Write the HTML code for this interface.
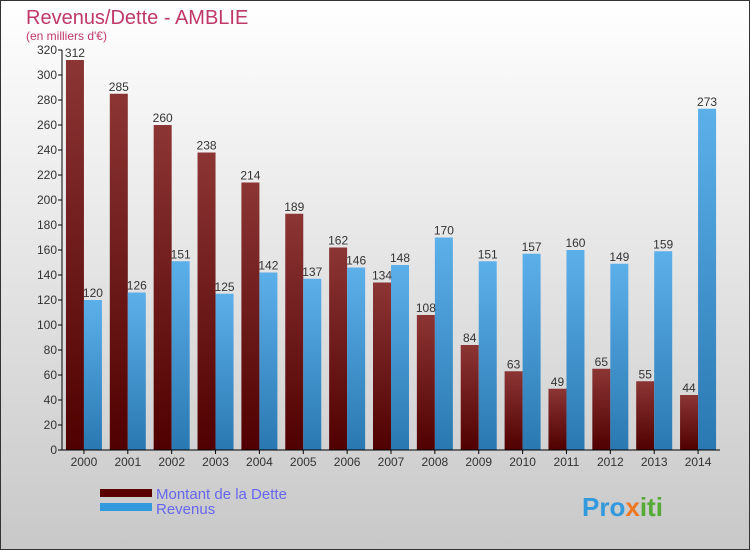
<!DOCTYPE html>
<html><head><meta charset="utf-8"><style>
body{margin:0}
svg{display:block;font-family:"Liberation Sans",sans-serif}
</style></head><body>
<svg id="chart" width="750" height="550" viewBox="0 0 750 550">
<defs>
<linearGradient id="bg" x1="0" y1="0" x2="0" y2="1"><stop offset="0" stop-color="#ffffff"/><stop offset="1" stop-color="#c8c8c8"/></linearGradient>
<linearGradient id="gd" x1="0" y1="0" x2="0" y2="1"><stop offset="0" stop-color="#8c3535"/><stop offset="1" stop-color="#500000"/></linearGradient>
<linearGradient id="gr" x1="0" y1="0" x2="0" y2="1"><stop offset="0" stop-color="#5cb0ea"/><stop offset="1" stop-color="#2a78b2"/></linearGradient>
</defs>
<rect x="0.5" y="0.5" width="749" height="549" fill="url(#bg)" stroke="#333"/>
<text x="26" y="24" font-size="20" fill="#c0386a">Revenus/Dette - AMBLIE</text>
<text x="26" y="40" font-size="12" fill="#c0386a">(en milliers d'€)</text>
<g id="grid"></g><g id="bars"></g><g id="axes"></g>
<rect x="100" y="489" width="52" height="8" fill="#5a0000"/>
<text x="156" y="499" font-size="15" fill="#6666ee">Montant de la Dette</text>
<rect x="100" y="503" width="52" height="8" fill="#3399dd"/>
<text x="156" y="514" font-size="15" fill="#6666ee">Revenus</text>
<text x="582" y="516" font-size="26" font-weight="bold" fill="#3399dd">Pro<tspan fill="#ee7722">x</tspan><tspan fill="#55aa33">iti</tspan></text>
</svg>
<script>
const years=["2000","2001","2002","2003","2004","2005","2006","2007","2008","2009","2010","2011","2012","2013","2014"];
const dette=[312,285,260,238,214,189,162,134,108,84,63,49,65,55,44];
const revenus=[120,126,151,125,142,137,146,148,170,151,157,160,149,159,273];
const ticks=[0,20,40,60,80,100,120,140,160,180,200,220,240,260,280,300,320];
const NS="http://www.w3.org/2000/svg";
const x0=62,x1=720,yb=450,yt=50,vmax=320;
const step=(x1-x0)/years.length;
const y=v=>yb-(v/vmax)*(yb-yt);
const xc=i=>x0+step*(i+0.5);
function mk(t,a,p){const e=document.createElementNS(NS,t);for(const k in a)e.setAttribute(k,a[k]);p.appendChild(e);return e;}
const bars=document.getElementById('bars'),axes=document.getElementById('axes');
years.forEach((yr,i)=>{
  const c=xc(i),w=18;
  const d=mk('rect',{x:c-w,y:y(dette[i]),width:w,height:yb-y(dette[i]),fill:'url(#gd)'},bars);
  
  
  const r=mk('rect',{x:c,y:y(revenus[i]),width:w,height:yb-y(revenus[i]),fill:'url(#gr)'},bars);
  
  
  const t1=mk('text',{x:c-w/2,y:y(dette[i])-3,'font-size':12,fill:'#333','text-anchor':'middle'},bars);
  t1.textContent=dette[i];
  
  
  const t2=mk('text',{x:c+w/2,y:y(revenus[i])-3,'font-size':12,fill:'#333','text-anchor':'middle'},bars);
  t2.textContent=revenus[i];
  
  
  const xl=mk('text',{x:c,y:yb+16,'font-size':12,fill:'#333','text-anchor':'middle'},axes);
  xl.textContent=yr;
  
  
  mk('line',{x1:c,x2:c,y1:yb,y2:yb+4,stroke:'#000'},axes);
});
ticks.forEach(v=>{
  mk('line',{x1:x0-4,x2:x0,y1:y(v),y2:y(v),stroke:'#000'},axes);
  const t=mk('text',{x:x0-5,y:y(v)+4,'font-size':12,fill:'#333','text-anchor':'end'},axes);
  t.textContent=v;
  
  
});
const ya=mk('line',{x1:x0,x2:x0,y1:yt,y2:yb,stroke:'#000'},axes);


const xa=mk('line',{x1:x0,x2:x1,y1:yb,y2:yb,stroke:'#000'},axes);


</script>
</body></html>
